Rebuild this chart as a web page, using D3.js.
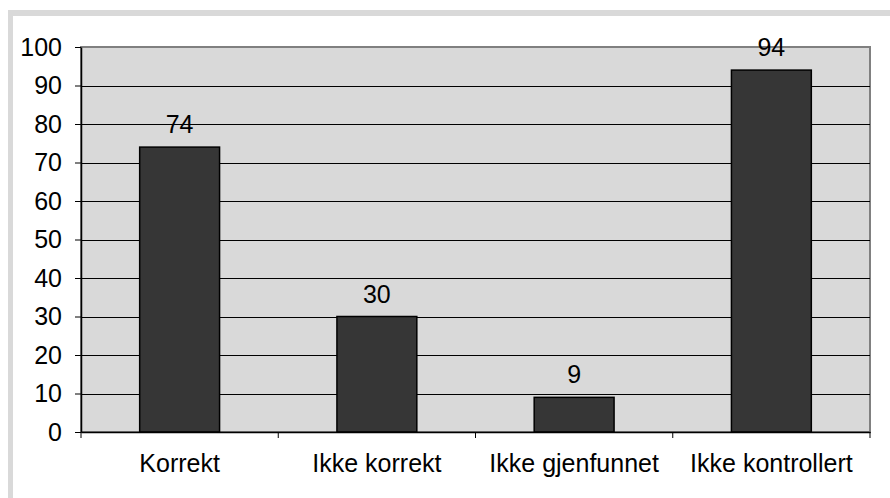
<!DOCTYPE html>
<html>
<head>
<meta charset="utf-8">
<script src="https://cdn.jsdelivr.net/npm/d3@7"></script>
<style>
  body { margin: 0; background: #fff; }
  svg { display: block; font-family: "Liberation Sans", Arial, sans-serif; }
</style>
</head>
<body>
<div id="chart"></div>
<script>
// Dati
const categories = ['Korrekt', 'Ikke korrekt', 'Ikke gjenfunnet', 'Ikke kontrollert'];
const values = [74, 30, 9, 94];
const yTicks = [0, 10, 20, 30, 40, 50, 60, 70, 80, 90, 100];

const width = 890;
const height = 498;
const margin = { left: 81, right: 20, top: 47, bottom: 66 };
const fontSize = 25;

const chart = d3.select('#chart')
    .append('svg')
    .attr('width', width)
    .attr('height', height);

// Outer frame (top and left only)
chart.append('rect')
    .attr('x', 8).attr('y', 10)
    .attr('width', width - 8).attr('height', 6)
    .attr('fill', '#d9d9d9');
chart.append('rect')
    .attr('x', 8).attr('y', 10)
    .attr('width', 5).attr('height', height - 10)
    .attr('fill', '#d9d9d9');

const x = d3.scaleBand()
    .domain(categories)
    .range([margin.left, width - margin.right])
    .paddingInner(0)
    .paddingOuter(0);

const y = d3.scaleLinear()
    .domain([0, 100])
    .range([height - margin.bottom, margin.top]);

// Plot background
chart.append('rect')
    .attr('x', margin.left)
    .attr('y', y(100))
    .attr('width', x.range()[1] - margin.left)
    .attr('height', y(0) - y(100))
    .attr('fill', '#d9d9d9')
    .attr('stroke', '#808080')
    .attr('stroke-width', 2);

// Gridlines
chart.append('g')
    .selectAll('line')
    .data(yTicks.filter(d => d > 0 && d < 100))
    .join('line')
    .attr('x1', margin.left)
    .attr('x2', x.range()[1])
    .attr('y1', d => Math.round(y(d)) + 0.5)
    .attr('y2', d => Math.round(y(d)) + 0.5)
    .attr('stroke', '#000')
    .attr('stroke-width', 1);

// Bars
const barW = x.bandwidth() * 0.405;
chart.append('g')
    .selectAll('rect')
    .data(values)
    .join('rect')
    .attr('x', (d, i) => x(categories[i]) + x.bandwidth() / 2 - barW / 2)
    .attr('y', d => y(d))
    .attr('width', barW)
    .attr('height', d => y(0) - y(d))
    .attr('fill', '#363636')
    .attr('stroke', '#000')
    .attr('stroke-width', 1.5);

// Value labels
chart.append('g')
    .selectAll('text')
    .data(values)
    .join('text')
    .attr('x', (d, i) => x(categories[i]) + x.bandwidth() / 2)
    .attr('y', d => y(d) - 14)
    .attr('text-anchor', 'middle')
    .attr('font-size', fontSize)
    .attr('fill', '#000')
    .text(d => d);

// Y axis
const yAxis = chart.append('g')
    .attr('transform', `translate(${margin.left},0)`)
    .call(d3.axisLeft(y).tickValues(yTicks).tickSize(6).tickPadding(13).tickSizeOuter(0));
yAxis.select('.domain').attr('stroke', '#000').attr('stroke-width', 1.5);
yAxis.selectAll('.tick line').attr('stroke', '#000');
yAxis.selectAll('.tick text')
    .attr('font-size', fontSize)
    .attr('font-family', '"Liberation Sans", Arial, sans-serif')
    .attr('fill', '#000');

// X axis
const xAxis = chart.append('g')
    .attr('transform', `translate(0,${y(0)})`)
    .call(d3.axisBottom(x).tickSize(0).tickPadding(22));
xAxis.select('.domain').attr('stroke', '#000').attr('stroke-width', 1.5);
xAxis.selectAll('.tick text')
    .attr('font-size', fontSize)
    .attr('font-family', '"Liberation Sans", Arial, sans-serif')
    .attr('fill', '#000');

// Category boundary ticks
const bounds = categories.map(c => x(c)).concat([x.range()[1]]);
chart.append('g')
    .selectAll('line')
    .data(bounds)
    .join('line')
    .attr('x1', d => d).attr('x2', d => d)
    .attr('y1', y(0)).attr('y2', y(0) + 6)
    .attr('stroke', '#000');
</script>
</body>
</html>
